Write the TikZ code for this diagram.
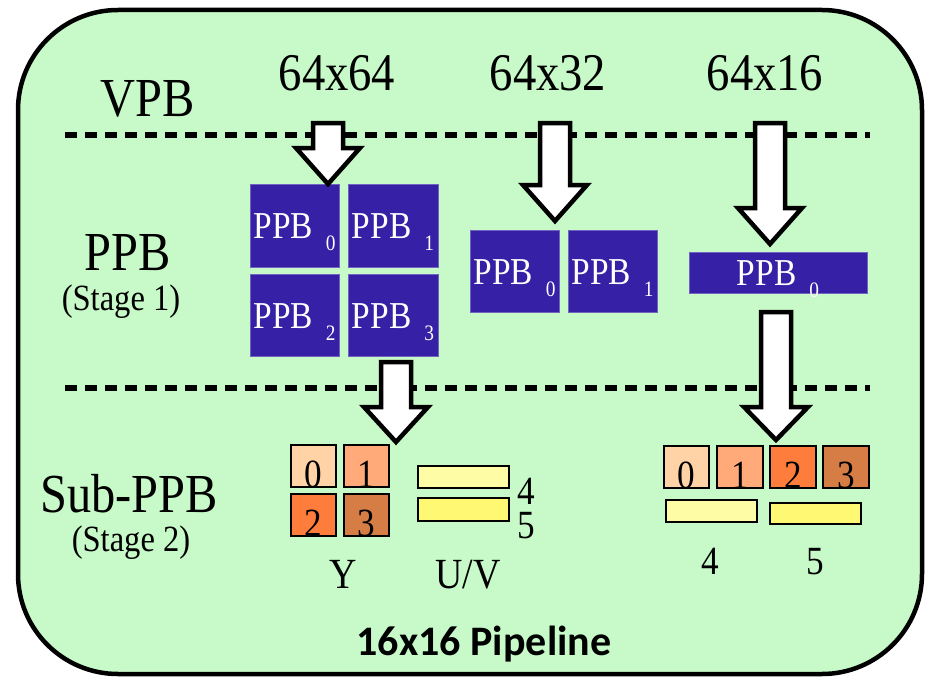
\documentclass[tikz,border=0pt]{standalone}
\usepackage{fontspec}
\setmainfont{Liberation Serif}
\newfontfamily\tsf{Liberation Serif}[FakeStretch=0.88]
\newfontfamily\calfont{Carlito}
\definecolor{bgg}{RGB}{199,250,200}
\definecolor{ppbblue}{RGB}{54,32,166}
\definecolor{c0}{RGB}{255,211,166}
\definecolor{c1}{RGB}{255,170,120}
\definecolor{c2}{RGB}{255,125,60}
\definecolor{c3}{RGB}{214,125,70}
\definecolor{y4}{RGB}{255,252,166}
\definecolor{y5}{RGB}{255,248,115}
\newcommand\barrow[4]{\draw[barrowstyle] (#1-15,#2) -- (#1+15,#2) -- (#1+15,#3) -- (#1+32,#3) -- (#1,#4) -- (#1-32,#3) -- (#1-15,#3) -- cycle;}
\newcommand\psub[1]{PPB\kern13pt\raisebox{-12pt}{\fontsize{22}{22}\selectfont #1}}
\begin{document}
\begin{tikzpicture}[x=1pt,y=-1pt,
  biglbl/.style={font=\tsf\fontsize{55}{60}\selectfont, anchor=base, inner sep=0pt},
  sizelbl/.style={font=\tsf\fontsize{53}{60}\selectfont, anchor=base, inner sep=0pt},
  stagelbl/.style={font=\tsf\fontsize{37}{40}\selectfont, anchor=base, inner sep=0pt},
  smalllbl/.style={font=\tsf\fontsize{43}{45}\selectfont, anchor=base, inner sep=0pt},
  digitlbl/.style={font=\tsf\fontsize{40}{44}\selectfont, anchor=base, inner sep=0pt, text height=27pt, text depth=0pt},
  dashline/.style={line width=6pt, dash pattern=on 12pt off 8pt},
  barrowstyle/.style={draw=black, fill=white, line width=4.5pt, miter limit=10},
  ppbbox/.style={fill=ppbblue, draw=ppbblue!70!white, line width=0.6pt, inner sep=0pt, text=white,
    font=\tsf\fontsize{38}{40}\selectfont, text height=26pt, text depth=0pt},
  subbox/.style={draw=black, line width=2.5pt, inner sep=0pt, minimum width=45pt, minimum height=42pt,
    font=\tsf\fontsize{40}{40}\selectfont, text height=42pt, text depth=0pt},
  bar/.style={draw=black, line width=2.5pt, inner sep=0pt, minimum width=91pt, minimum height=22pt}
]
\useasboundingbox (0,0) rectangle (932,677);
\fill[white] (0,0) rectangle (932,677);
\draw[line width=4.5pt, fill=bgg, rounded corners=100pt] (18,10) rectangle (922,674);

% dashed separators
\coordinate (d1a) at (65,135); \coordinate (d1b) at (870,135);
\coordinate (d2a) at (65,388); \coordinate (d2b) at (870,388);
\draw[dashline] (d1a) -- (d1b);
\draw[dashline] (d2a) -- (d2b);

% left labels
\node[biglbl] (vpb) at (148,117) {VPB};
\node[biglbl] (ppb) at (128,270) {PPB};
\node[stagelbl] (st1) at (121,310) {(Stage 1)};
\node[biglbl] (subppb) at (129,512) {Sub-PPB};
\node[stagelbl] (st2) at (131,551) {(Stage 2)};

% sizes
\node[sizelbl] (s64) at (337,91) {64x64};
\node[sizelbl] (s32) at (548,91) {64x32};
\node[sizelbl] (s16) at (765,91) {64x16};

% PPB blocks
\node[ppbbox, minimum width=89pt, minimum height=83pt] (p0) at (294.5,225.5) {\psub{0}};
\node[ppbbox, minimum width=90pt, minimum height=83pt] (p1) at (393,225.5) {\psub{1}};
\node[ppbbox, minimum width=89pt, minimum height=82pt] (p2) at (294.5,315) {\psub{2}};
\node[ppbbox, minimum width=90pt, minimum height=82pt] (p3) at (393,315) {\psub{3}};
\node[ppbbox, minimum width=89pt, minimum height=82pt] (q0) at (514.5,271) {\psub{0}};
\node[ppbbox, minimum width=89pt, minimum height=82pt] (q1) at (612.5,271) {\psub{1}};
\node[ppbbox, minimum width=178pt, minimum height=41pt] (r0) at (778,272.5) {\psub{0}};

% block arrows
\barrow{328}{123}{148}{184}
\barrow{555}{123}{185}{221}
\barrow{770}{123}{208}{244}
\barrow{396}{362}{407}{442}
\barrow{776}{312}{407}{440}

% Sub-PPB left
\node[subbox, fill=c0] (s0) at (313.5,466) {0};
\node[subbox, fill=c1] (s1) at (366.5,466) {1};
\node[subbox, fill=c2] (s2) at (313.5,515) {2};
\node[subbox, fill=c3] (s3) at (366.5,515) {3};
\node[bar, fill=y4] (u4) at (463.5,477) {};
\node[bar, fill=y5, minimum height=23pt] (u5) at (463.5,509.5) {};
\node[digitlbl] (l4) at (526,504) {4};
\node[digitlbl] (l5) at (526,538) {5};
\node[smalllbl] (ly) at (343,588) {Y};
\node[smalllbl] (luv) at (468,588) {U/V};

% Sub-PPB right
\node[subbox, fill=c0] (t0) at (686.5,467) {0};
\node[subbox, fill=c1, minimum width=46pt] (t1) at (740,467) {1};
\node[subbox, fill=c2, minimum width=46pt] (t2) at (793,467) {2};
\node[subbox, fill=c3, minimum width=46pt] (t3) at (846,467) {3};
\node[bar, fill=y4] (v4) at (711.5,511) {};
\node[bar, fill=y5, minimum height=21pt] (v5) at (815.5,513.5) {};
\node[digitlbl] (r4) at (710,574) {4};
\node[digitlbl] (r5) at (815,574) {5};

% footer
\node[anchor=base, inner sep=0pt, font=\calfont\bfseries\fontsize{42}{45}\selectfont] (pipe) at (484,655) {16x16 Pipeline};
\end{tikzpicture}
\end{document}
